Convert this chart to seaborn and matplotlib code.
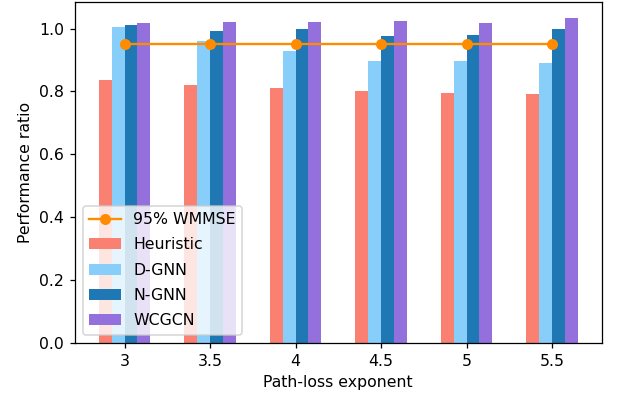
import matplotlib
matplotlib.use("Agg")
import matplotlib.pyplot as plt
import seaborn as sns
import pandas as pd

exponents = ["3", "3.5", "4", "4.5", "5", "5.5"]
methods = ["Heuristic", "D-GNN", "N-GNN", "WCGCN"]
heuristic = [0.837, 0.821, 0.810, 0.801, 0.795, 0.792]
d_gnn = [1.004, 0.962, 0.927, 0.896, 0.896, 0.891]
n_gnn = [1.011, 0.993, 0.998, 0.975, 0.981, 0.998]
wcgcn = [1.019, 1.022, 1.022, 1.025, 1.019, 1.033]
wmmse_95 = [0.95] * len(exponents)

colors = ["salmon", "lightskyblue", "#1f77b4", "mediumpurple"]

rows = []
for name, vals in zip(methods, [heuristic, d_gnn, n_gnn, wcgcn]):
    for e, v in zip(exponents, vals):
        rows.append({"exponent": e, "method": name, "ratio": v})
df = pd.DataFrame(rows)

fig, ax = plt.subplots(figsize=(617 / 113, 397 / 113), dpi=113)
fig.subplots_adjust(left=0.1216, right=0.975, bottom=0.137, top=0.995)

sns.barplot(data=df, x="exponent", y="ratio", hue="method", order=exponents,
            hue_order=methods, palette=colors, width=0.6, saturation=1,
            errorbar=None, ax=ax)
ax.plot(range(len(exponents)), wmmse_95, marker="o", color="darkorange",
        label="95% WMMSE")

ax.set_xlim(-0.58, len(exponents) - 1 + 0.58)
ax.set_xlabel("Path-loss exponent")
ax.set_ylabel("Performance ratio")

handles, labels = ax.get_legend_handles_labels()
order = [labels.index("95% WMMSE")] + [labels.index(m) for m in methods]
ax.legend([handles[i] for i in order], [labels[i] for i in order],
          loc="lower left", labelspacing=0.66)

fig.savefig("out.png", dpi=113)
